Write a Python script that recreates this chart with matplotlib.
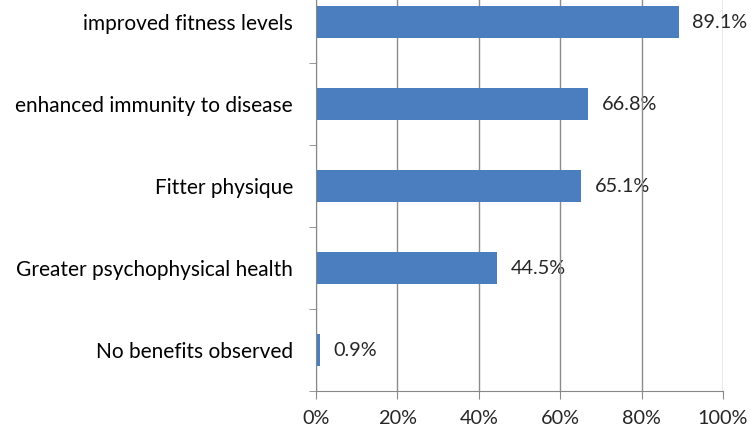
import matplotlib
matplotlib.use("Agg")
import matplotlib.pyplot as plt
from matplotlib.ticker import FixedLocator, FuncFormatter

categories = ["improved fitness levels", "enhanced immunity to disease", "Fitter physique",
              "Greater psychophysical health", "No benefits observed"]
values = [89.1, 66.8, 65.1, 44.5, 0.9]
xticks = [0, 20, 40, 60, 80, 100]

plt.rcParams['font.family'] = ['Lato', 'DejaVu Sans']

fig = plt.figure(figsize=(7.51, 4.30), dpi=100)
ax = fig.add_axes([316/751, 39/430, 407/751, 410/430])

n = len(categories)
ypos = list(range(n))[::-1]
ax.barh(ypos, values, height=0.4, color="#4a7ebf", zorder=3)
for y, v in zip(ypos, values):
    ax.text(v + 3.4, y, f"{v:.1f}%", va="center", ha="left", fontsize=14.3,
            color="#262626", zorder=1)

ax.set_xlim(0, 100)
ax.set_ylim(-0.5, n - 0.5)
ax.set_xticks(xticks)
ax.xaxis.set_major_formatter(FuncFormatter(lambda x, p: f"{x:.0f}%"))
ax.tick_params(axis="x", labelsize=14.3, length=6, color="#888888", pad=7.5, labelcolor="#262626")
ax.set_yticks(ypos)
ax.set_yticklabels(categories)
ax.tick_params(axis="y", which="major", length=0, pad=16.5, labelsize=15, labelcolor="#000000")
ax.yaxis.set_minor_locator(FixedLocator([i + 0.5 for i in range(-1, n)]))
ax.tick_params(axis="y", which="minor", length=5, color="#888888")
ax.set_axisbelow(False)
ax.grid(axis="x", color="#8c8c8c", linewidth=1, zorder=2)
for s in ["top", "right"]:
    ax.spines[s].set_visible(False)
ax.spines["left"].set_color("#888888")
ax.spines["bottom"].set_color("#888888")
ax.spines["left"].set_zorder(4)

fig.savefig("out.png", dpi=100)
